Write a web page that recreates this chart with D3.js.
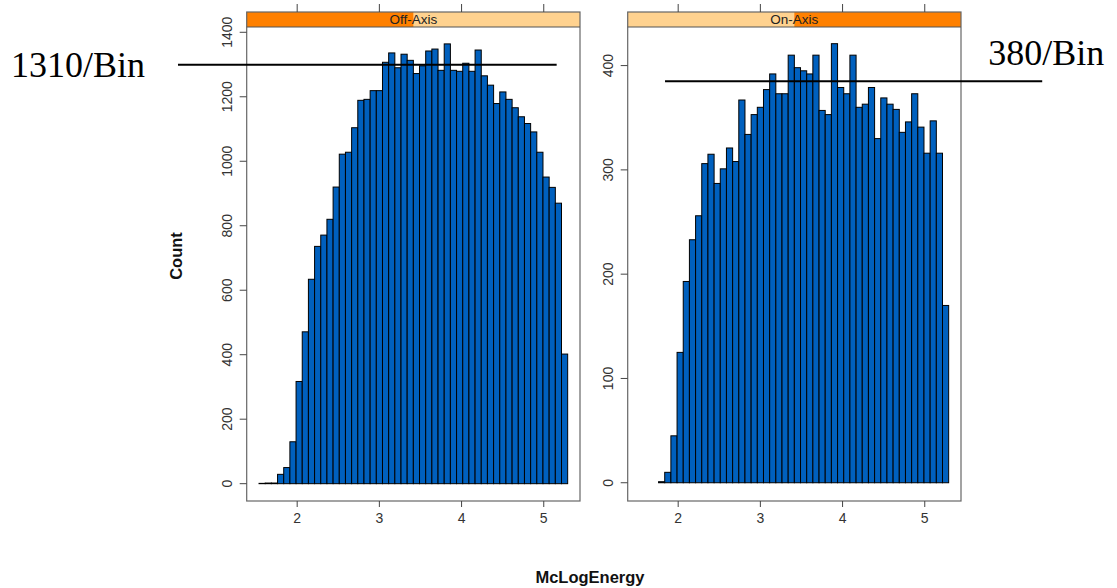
<!DOCTYPE html>
<html>
<head>
<meta charset="utf-8">
<script src="https://cdn.jsdelivr.net/npm/d3@7"></script>
<style>
  body { margin: 0; background: #fff; }
  svg { display: block; }
</style>
</head>
<body>
<svg id="chart" width="1117" height="588"></svg>
<script>
// histogram bins (McLogEnergy), 50 equal bins
const binStart = 1.542;
const binWidth = 0.0751;

const offAxisCounts = [1, 2, 2, 29, 50, 130, 317, 471, 634, 736, 771, 820, 920, 1022, 1028, 1104,
  1189, 1192, 1219, 1219, 1307, 1336, 1290, 1332, 1313, 1272, 1296, 1342, 1348, 1282, 1364, 1282,
  1279, 1304, 1279, 1345, 1265, 1236, 1179, 1215, 1192, 1166, 1138, 1117, 1091, 1028, 951, 919, 870, 402];

const onAxisCounts = [0, 0, 0, 1, 10, 45, 125, 193, 233, 256, 306, 315, 287, 301, 321, 308,
  367, 334, 353, 360, 377, 392, 373, 373, 410, 398, 395, 392, 410, 357, 353, 421,
  379, 373, 410, 360, 363, 379, 330, 369, 363, 358, 336, 346, 373, 341, 316, 347, 316, 170];

const panelNames = ["Off-Axis", "On-Axis"];
const xTicks = [2, 3, 4, 5];
const offAxisYTicks = [0, 200, 400, 600, 800, 1000, 1200, 1400];
const onAxisYTicks = [0, 100, 200, 300, 400];

// hand drawn reference lines: [x from, x to] in McLogEnergy units, level in counts
const refLabels = ["1310/Bin", "380/Bin"];
const refLevels = [1299, 385];
const refExtents = [[0.556, 5.163], [1.846, 6.435]];

const svg = d3.select("#chart");
const axisFont = "'Liberation Sans', Arial, sans-serif";

const panels = [
  { name: panelNames[0], counts: offAxisCounts, yTicks: offAxisYTicks, yDomain: [-53.7, 1416.4], left: 246.7, level: 0 },
  { name: panelNames[1], counts: onAxisCounts, yTicks: onAxisYTicks, yDomain: [-17.5, 437], left: 627.7, level: 1 }
];
const panelW = 333.3, stripTop = 12, plotTop = 27, plotBottom = 501;

panels.forEach((p, i) => {
  const x = d3.scaleLinear().domain([1.392, 5.447]).range([p.left, p.left + panelW]);
  const y = d3.scaleLinear().domain(p.yDomain).range([plotBottom, plotTop]);
  p.x = x; p.y = y;
  const g = svg.append("g");

  // strip
  g.append("rect").attr("x", p.left).attr("y", stripTop).attr("width", panelW).attr("height", plotTop - stripTop)
    .attr("fill", "#ffd28f");
  g.append("rect").attr("x", p.left + p.level * panelW / 2).attr("y", stripTop)
    .attr("width", panelW / 2).attr("height", plotTop - stripTop).attr("fill", "#ff8000");
  g.append("text").attr("x", p.left + panelW / 2).attr("y", plotTop - 3)
    .attr("text-anchor", "middle").attr("font-family", axisFont).attr("font-size", 13.5)
    .attr("fill", "#222").text(p.name);

  // bars
  g.append("g").selectAll("rect").data(p.counts).enter().append("rect")
    .attr("x", (d, k) => x(binStart + k * binWidth))
    .attr("width", x(binStart + binWidth) - x(binStart))
    .attr("y", d => y(d))
    .attr("height", d => y(0) - y(d))
    .attr("fill", "#0060be")
    .attr("stroke", "#000")
    .attr("stroke-width", 1);

  // frame
  g.append("rect").attr("x", p.left).attr("y", stripTop).attr("width", panelW).attr("height", plotBottom - stripTop)
    .attr("fill", "none").attr("stroke", "#666").attr("stroke-width", 1.2);
  g.append("line").attr("x1", p.left).attr("x2", p.left + panelW).attr("y1", plotTop).attr("y2", plotTop)
    .attr("stroke", "#555").attr("stroke-width", 1.2);

  // bottom axis
  const bottom = g.append("g").attr("transform", `translate(0,${plotBottom})`)
    .call(d3.axisBottom(x).tickValues(xTicks).tickSize(6).tickPadding(6).tickFormat(d3.format("d")));
  bottom.select(".domain").remove();
  bottom.selectAll("line").attr("stroke", "#444");
  bottom.selectAll("text").attr("font-family", axisFont).attr("font-size", 14).attr("fill", "#333");

  // top ticks (no labels)
  const top = g.append("g").attr("transform", `translate(0,${stripTop})`)
    .call(d3.axisTop(x).tickValues(xTicks).tickSize(8).tickFormat(""));
  top.select(".domain").remove();
  top.selectAll("line").attr("stroke", "#444");

  // left axis
  const leftAx = g.append("g").attr("transform", `translate(${p.left},0)`)
    .call(d3.axisLeft(y).tickValues(p.yTicks).tickSize(7).tickPadding(0).tickFormat(d3.format("d")));
  leftAx.select(".domain").remove();
  leftAx.selectAll("line").attr("stroke", "#444");
  leftAx.selectAll("text")
    .attr("font-family", axisFont).attr("font-size", 14).attr("fill", "#333")
    .attr("text-anchor", "middle").attr("x", 0).attr("dy", 0)
    .attr("transform", d => `translate(-15,${y(d)}) rotate(-90)`)
    .attr("y", 0);
  leftAx.selectAll(".tick").attr("transform", null);
  leftAx.selectAll(".tick line").attr("y1", d => y(d)).attr("y2", d => y(d));
});

// axis titles
svg.append("text").attr("x", 590).attr("y", 583).attr("text-anchor", "middle")
  .attr("font-family", axisFont).attr("font-weight", "bold").attr("font-size", 16.5).attr("fill", "#111")
  .text("McLogEnergy");
svg.append("text").attr("transform", "translate(182,256) rotate(-90)").attr("text-anchor", "middle")
  .attr("font-family", axisFont).attr("font-weight", "bold").attr("font-size", 16.5).attr("fill", "#111")
  .text("Count");

// reference lines and labels
panels.forEach((p, i) => {
  const ly = p.y(refLevels[i]);
  const x1 = p.x(refExtents[i][0]), x2 = p.x(refExtents[i][1]);
  svg.append("line").attr("x1", x1).attr("x2", x2).attr("y1", ly).attr("y2", ly)
    .attr("stroke", "#000").attr("stroke-width", 2);
  const t = svg.append("text").attr("font-family", "'Liberation Serif', 'Times New Roman', serif")
    .attr("font-size", 36).attr("fill", "#000").text(refLabels[i]);
  if (i === 0) t.attr("x", x1 - 33).attr("y", ly + 12).attr("text-anchor", "end");
  else t.attr("x", x2 + 62).attr("y", ly - 16).attr("text-anchor", "end");
});
</script>
</body>
</html>
